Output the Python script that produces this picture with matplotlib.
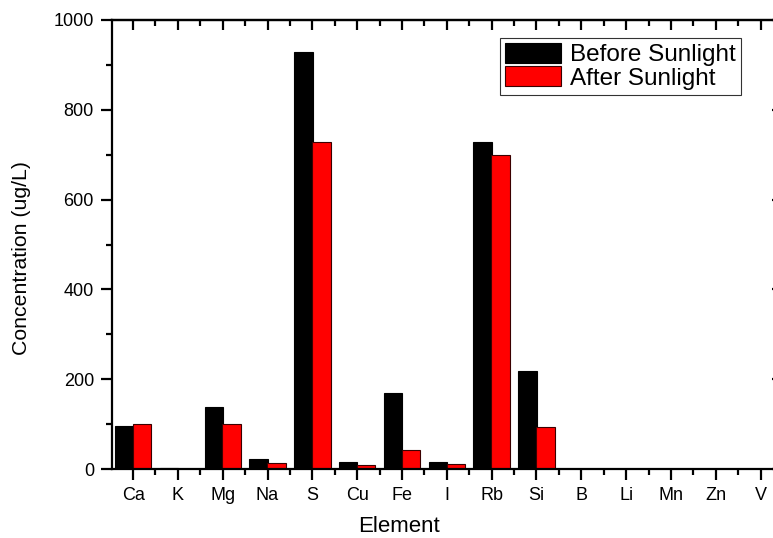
import numpy as np
import matplotlib.pyplot as plt
from matplotlib.ticker import MultipleLocator

plt.rcParams['font.family'] = ['Liberation Sans', 'DejaVu Sans']

# data
elements = ['Ca', 'K', 'Mg', 'Na', 'S', 'Cu', 'Fe', 'I', 'Rb', 'Si', 'B', 'Li', 'Mn', 'Zn', 'V']
before = [96, 2, 139, 22, 929, 15, 170, 15, 729, 219, 0, 0, 0, 0, 0]
after = [100, 1, 100, 14, 728, 10, 42, 11, 699, 94, 0, 0, 0, 0, 0]

fig = plt.figure(figsize=(7.73, 5.38), dpi=100)
# axes runs a bit past the right edge, as in the original export
ax = fig.add_axes([112 / 773, 1 - 469 / 538, 671 / 773, 449 / 538])

x = np.arange(len(elements))
w = 0.41
ax.bar(x - 0.2, before, w, color='black', edgecolor='black', linewidth=0.8,
       label='Before Sunlight')
ax.bar(x + 0.2, after, w, color='#ff0000', edgecolor='#3a0000', linewidth=0.8,
       label='After Sunlight')

ax.set_xlim(-0.47, 14.5)
ax.set_ylim(0, 1000)
ax.set_xticks(x)
ax.set_xticklabels(elements)
ax.xaxis.set_minor_locator(MultipleLocator(0.5))
ax.yaxis.set_major_locator(MultipleLocator(200))
ax.yaxis.set_minor_locator(MultipleLocator(100))

for s in ax.spines.values():
    s.set_linewidth(1.6)

ax.tick_params(axis='both', which='major', direction='out', length=8, width=1.6,
               labelsize=13, pad=5)
ax.tick_params(axis='both', which='minor', direction='out', length=4, width=1.6)

# mirrored ticks on top and right point inward
top = ax.secondary_xaxis('top')
top.set_xticks(x)
top.xaxis.set_minor_locator(MultipleLocator(0.5))
top.tick_params(which='major', direction='in', length=7, width=1.6, labeltop=False)
top.tick_params(which='minor', direction='in', length=4, width=1.6)
top.spines['top'].set_linewidth(1.6)

right = ax.secondary_yaxis('right')
right.yaxis.set_major_locator(MultipleLocator(200))
right.yaxis.set_minor_locator(MultipleLocator(100))
right.tick_params(which='major', direction='in', length=8, width=1.6, labelright=False)
right.tick_params(which='minor', direction='in', length=4, width=1.6)

fig.text(399 / 773, 1 - 526 / 538, 'Element', ha='center', va='center', fontsize=16)
fig.text(22 / 773, 1 - 258 / 538, 'Concentration (ug/L)', ha='center', va='center',
         rotation=90, fontsize=15.3)

leg = ax.legend(loc='upper left', bbox_to_anchor=(500 / 773, 1 - 38 / 538),
                bbox_transform=fig.transFigure, borderaxespad=0, fontsize=17.5,
                frameon=True, fancybox=False, handlelength=2.3, handleheight=0.85,
                labelspacing=0.0, borderpad=0.22, handletextpad=0.35)
leg.get_frame().set_edgecolor('black')
leg.get_frame().set_linewidth(0.8)

fig.savefig('out.png', dpi=100)
